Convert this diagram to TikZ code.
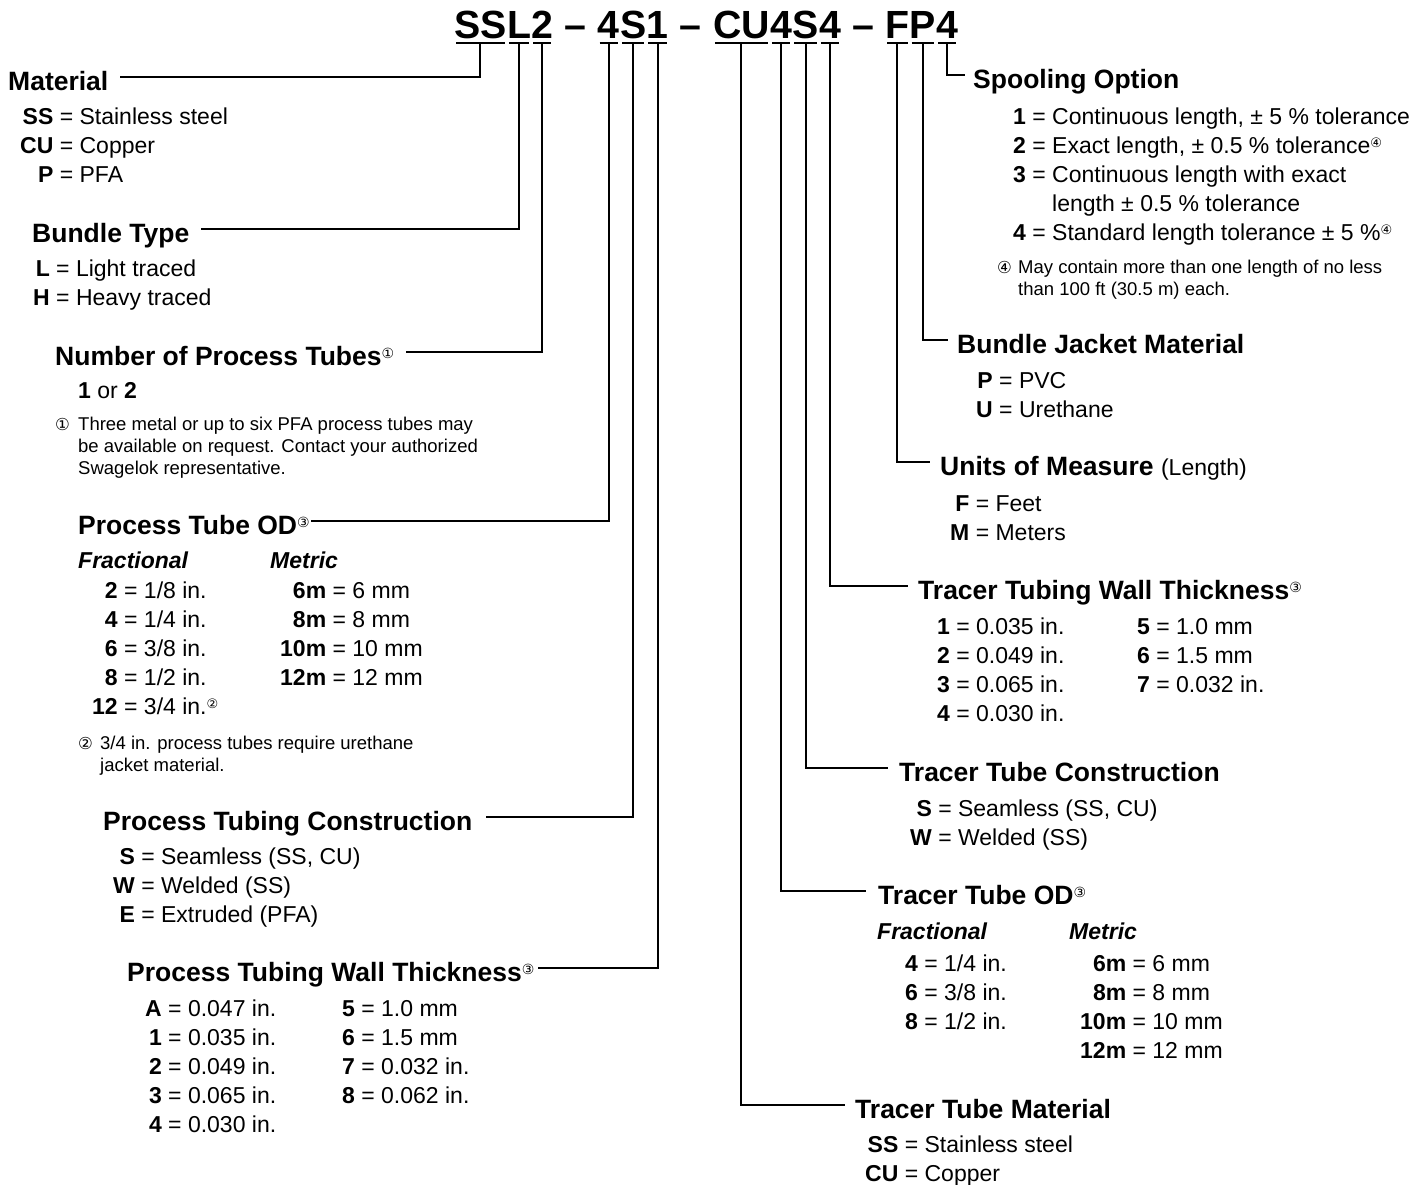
\documentclass[tikz,border=0pt]{standalone}
\usepackage{fontspec}
\setmainfont{Liberation Sans}
\newfontfamily\circfont{DejaVu Sans}
\usetikzlibrary{calc}
\newcommand{\hdfont}{\fontsize{26.5}{30}\selectfont\bfseries}
\newcommand{\bdfont}{\fontsize{23}{29}\selectfont}
\newcommand{\fnfont}{\fontsize{18.5}{22}\selectfont}
\newcommand{\cnup}[1]{\raisebox{7pt}{\fontsize{14}{14}\selectfont\circfont\mdseries\upshape #1}}
\newcommand{\cnbd}[1]{\raisebox{6pt}{\fontsize{13}{13}\selectfont\circfont\mdseries\upshape #1}}
\newcommand{\cnfn}[1]{{\fontsize{16.5}{16.5}\selectfont\circfont\mdseries\upshape #1}}
\tikzset{
  hd/.style={inner sep=0pt, anchor=base west, font=\hdfont},
  bd/.style={inner sep=0pt, anchor=base west, font=\bdfont},
  fn/.style={inner sep=0pt, anchor=base west, font=\fnfont},
  colhd/.style={inner sep=0pt, anchor=base west, font=\bdfont\bfseries\itshape},
  tseg/.style={inner sep=0pt, anchor=base west, font=\fontsize{39.3}{44}\selectfont\bfseries},
  uline/.style={line width=2.5pt},
  conn/.style={line width=2pt}
}
\newenvironment{entries}{\begin{tabular}[t]{@{}r@{\ =\ }l@{}}}{\end{tabular}}
\begin{document}
\begin{tikzpicture}[x=1pt,y=-1pt]
\useasboundingbox (0,0) rectangle (1409,1184);
% ---- title segments
\node[tseg] (t1) at (454,38) {SS};
\node[tseg] (t2) at (t1.base east) {L};
\node[tseg] (t3) at (t2.base east) {2};
\node[tseg] (d1) at (t3.base east) {\hbox{\ –\ }};
\node[tseg] (t4) at (d1.base east) {4};
\node[tseg] (t5) at (t4.base east) {S};
\node[tseg] (t6) at (t5.base east) {1};
\node[tseg] (d2) at (t6.base east) {\hbox{\ –\ }};
\node[tseg] (t7) at (d2.base east) {CU};
\node[tseg] (t8) at (t7.base east) {4};
\node[tseg] (t9) at (t8.base east) {S};
\node[tseg] (t10) at (t9.base east) {4};
\node[tseg] (d3) at (t10.base east) {\hbox{\ –\ }};
\node[tseg] (t11) at (d3.base east) {F};
\node[tseg] (t12) at (t11.base east) {P};
\node[tseg] (t13) at (t12.base east) {4};
\foreach \s in {t1,t2,t3,t4,t5,t6,t7,t8,t9,t10,t11,t12,t13}
  \draw[uline] ([xshift=2pt,yshift=-5pt]\s.base west) -- ([xshift=-2pt,yshift=-5pt]\s.base east);

% ---- headings
\node[hd] (mat) at (8,90) {Material};
\node[hd] (bun) at (32,242) {Bundle Type};
\node[hd] (num) at (55,365) {Number of Process Tubes\cnup{①}};
\node[hd] (pod) at (78,534) {Process Tube OD\cnup{③}};
\node[hd] (ptc) at (103,830) {Process Tubing Construction};
\node[hd] (ptw) at (127,981) {Process Tubing Wall Thickness\cnup{③}};
\node[hd] (spo) at (973,88.5) {Spooling Option};
\node[hd] (bjm) at (957,353.5) {Bundle Jacket Material};
\node[hd] (uom) at (940,475.5) {Units of Measure {\mdseries\fontsize{23}{29}\selectfont (Length)}};
\node[hd] (ttw) at (918,599.5) {Tracer Tubing Wall Thickness\cnup{③}};
\node[hd] (ttc) at (899,781.5) {Tracer Tube Construction};
\node[hd] (tod) at (878,904.5) {Tracer Tube OD\cnup{③}};
\node[hd] (ttm) at (855,1118.5) {Tracer Tube Material};

% ---- connectors
\draw[conn] ([yshift=-5pt]t1.base) |- ([xshift=11pt,yshift=13.5pt]mat.base east);
\draw[conn] ([yshift=-5pt]t2.base) |- ([xshift=12pt,yshift=13.5pt]bun.base east);
\draw[conn] ([yshift=-5pt]t3.base) |- ([xshift=12pt,yshift=13.5pt]num.base east);
\draw[conn] ([yshift=-5pt]t4.base) |- ([xshift=1pt,yshift=13.5pt]pod.base east);
\draw[conn] ([yshift=-5pt]t5.base) |- ([xshift=14pt,yshift=13.5pt]ptc.base east);
\draw[conn] ([yshift=-5pt]t6.base) |- ([xshift=3pt,yshift=13.5pt]ptw.base east);
\draw[conn] ([yshift=-5pt]t7.base) |- ([xshift=-10pt,yshift=13.5pt]ttm.base west);
\draw[conn] ([yshift=-5pt]t8.base) |- ([xshift=-12pt,yshift=13.5pt]tod.base west);
\draw[conn] ([yshift=-5pt]t9.base) |- ([xshift=-11pt,yshift=13.5pt]ttc.base west);
\draw[conn] ([yshift=-5pt]t10.base) |- ([xshift=-10pt,yshift=13.5pt]ttw.base west);
\draw[conn] ([yshift=-5pt]t11.base) |- ([xshift=-10pt,yshift=13.5pt]uom.base west);
\draw[conn] ([yshift=-5pt]t12.base) |- ([xshift=-9pt,yshift=13.5pt]bjm.base west);
\draw[conn] ([yshift=-5pt]t13.base) |- ([xshift=-8pt,yshift=13.5pt]spo.base west);

% ---- left entries
\node[bd] (matE) at (20,124) {\begin{entries}
\textbf{SS} & Stainless steel\\
\textbf{CU} & Copper\\
\textbf{P} & PFA
\end{entries}};
\node[bd] (bunE) at (33,276) {\begin{entries}
\textbf{L} & Light traced\\
\textbf{H} & Heavy traced
\end{entries}};
\node[bd] (numE) at (78,398) {\textbf{1} or \textbf{2}};
\node[fn] (fn1c) at (55,430) {\cnfn{①}};
\node[fn] (fn1t) at (78,430) {\begin{tabular}[t]{@{}l@{}}
Three metal or up to six PFA process tubes may\\
be available on request. Contact your authorized\\
Swagelok representative.
\end{tabular}};
\node[colhd] (podFh) at (78,568) {Fractional};
\node[colhd] (podMh) at (270,568) {Metric};
\node[bd] (podA) at (92,598) {\begin{entries}
\textbf{2} & 1/8 in.\\
\textbf{4} & 1/4 in.\\
\textbf{6} & 3/8 in.\\
\textbf{8} & 1/2 in.\\
\textbf{12} & 3/4 in.\cnbd{②}
\end{entries}};
\node[bd] (podB) at (280,598) {\begin{entries}
\textbf{6m} & 6 mm\\
\textbf{8m} & 8 mm\\
\textbf{10m} & 10 mm\\
\textbf{12m} & 12 mm
\end{entries}};
\node[fn] (fn2c) at (78,749) {\cnfn{②}};
\node[fn] (fn2t) at (100,749) {\begin{tabular}[t]{@{}l@{}}
3/4 in. process tubes require urethane\\
jacket material.
\end{tabular}};
\node[bd] (ptcE) at (113,864) {\begin{entries}
\textbf{S} & Seamless (SS, CU)\\
\textbf{W} & Welded (SS)\\
\textbf{E} & Extruded (PFA)
\end{entries}};
\node[bd] (ptwA) at (145,1016) {\begin{entries}
\textbf{A} & 0.047 in.\\
\textbf{1} & 0.035 in.\\
\textbf{2} & 0.049 in.\\
\textbf{3} & 0.065 in.\\
\textbf{4} & 0.030 in.
\end{entries}};
\node[bd] (ptwB) at (342,1016) {\begin{entries}
\textbf{5} & 1.0 mm\\
\textbf{6} & 1.5 mm\\
\textbf{7} & 0.032 in.\\
\textbf{8} & 0.062 in.
\end{entries}};

% ---- right entries
\node[bd] (spoE) at (1013,124) {\begin{entries}
\textbf{1} & Continuous length, ± 5 \% tolerance\\
\textbf{2} & Exact length, ± 0.5 \% tolerance\cnbd{④}\\
\textbf{3} & Continuous length with exact\\
\multicolumn{1}{@{}r@{\hphantom{\ =\ }}}{} & length ± 0.5 \% tolerance\\
\textbf{4} & Standard length tolerance ± 5 \%\cnbd{④}
\end{entries}};
\node[fn] (fn4c) at (997,273) {\cnfn{④}};
\node[fn] (fn4t) at (1018,273) {\begin{tabular}[t]{@{}l@{}}
May contain more than one length of no less\\
than 100 ft (30.5 m) each.
\end{tabular}};
\node[bd] (bjmE) at (976,388) {\begin{entries}
\textbf{P} & PVC\\
\textbf{U} & Urethane
\end{entries}};
\node[bd] (uomE) at (950,511) {\begin{entries}
\textbf{F} & Feet\\
\textbf{M} & Meters
\end{entries}};
\node[bd] (ttwA) at (937,634) {\begin{entries}
\textbf{1} & 0.035 in.\\
\textbf{2} & 0.049 in.\\
\textbf{3} & 0.065 in.\\
\textbf{4} & 0.030 in.
\end{entries}};
\node[bd] (ttwB) at (1137,634) {\begin{entries}
\textbf{5} & 1.0 mm\\
\textbf{6} & 1.5 mm\\
\textbf{7} & 0.032 in.
\end{entries}};
\node[bd] (ttcE) at (910,816) {\begin{entries}
\textbf{S} & Seamless (SS, CU)\\
\textbf{W} & Welded (SS)
\end{entries}};
\node[colhd] (todFh) at (877,939) {Fractional};
\node[colhd] (todMh) at (1069,939) {Metric};
\node[bd] (todA) at (905,971) {\begin{entries}
\textbf{4} & 1/4 in.\\
\textbf{6} & 3/8 in.\\
\textbf{8} & 1/2 in.
\end{entries}};
\node[bd] (todB) at (1080,971) {\begin{entries}
\textbf{6m} & 6 mm\\
\textbf{8m} & 8 mm\\
\textbf{10m} & 10 mm\\
\textbf{12m} & 12 mm
\end{entries}};
\node[bd] (ttmE) at (865,1152) {\begin{entries}
\textbf{SS} & Stainless steel\\
\textbf{CU} & Copper
\end{entries}};
\end{tikzpicture}
\end{document}
